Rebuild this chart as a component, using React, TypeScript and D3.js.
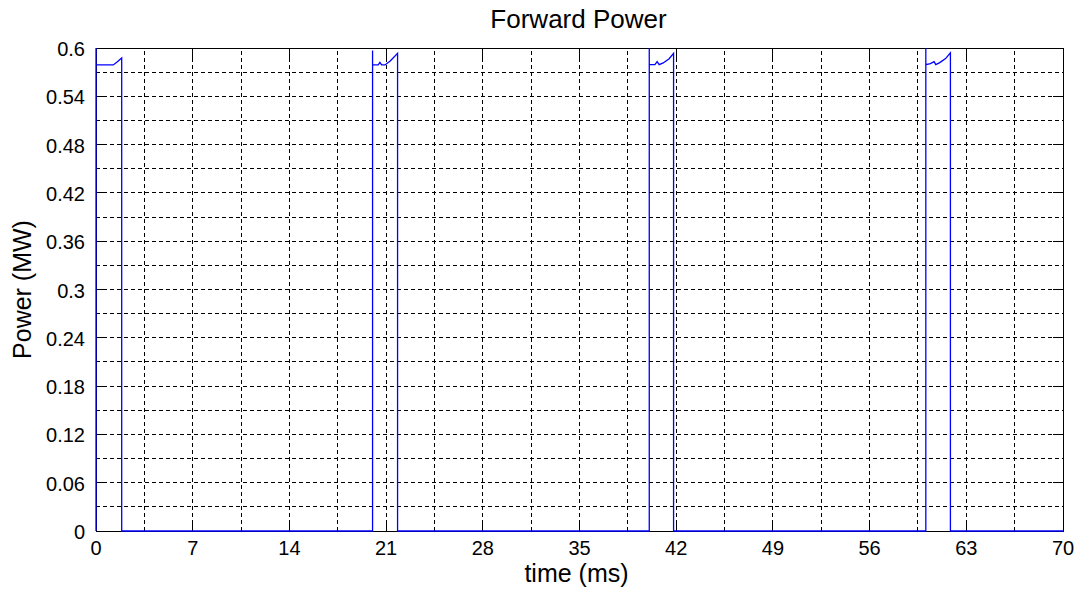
import React, { useRef, useEffect } from 'react';
import * as d3 from 'd3';

// trace (time in ms, power in MW)
const TIME_MS = [
  0, 0, 0, 1.25, 1.55, 1.86, 1.86,
  20.02, 20.02, 20.02, 20.43, 20.55, 20.68, 20.92, 21.3, 21.83, 21.83,
  40.05, 40.05, 40.05, 40.46, 40.62, 40.77, 41.06, 41.49, 41.81, 41.81,
  60.07, 60.07, 60.07, 60.4, 60.67, 60.79, 61.08, 61.5, 61.85, 61.85,
  70,
];
const POWER_MW = [
  0, 0.6, 0.579, 0.579, 0.583, 0.5876, 0,
  0, 0.597, 0.579, 0.579, 0.582, 0.579, 0.579, 0.5839, 0.5934, 0,
  0, 0.6, 0.5793, 0.5793, 0.583, 0.5793, 0.5814, 0.5867, 0.5934, 0,
  0, 0.6, 0.5793, 0.5805, 0.583, 0.5793, 0.5818, 0.5868, 0.594, 0,
  0,
];

const X_TICKS = [0, 7, 14, 21, 28, 35, 42, 49, 56, 63, 70];
const X_TICK_LABELS = ['0', '7', '14', '21', '28', '35', '42', '49', '56', '63', '70'];
const Y_TICKS = [0, 0.06, 0.12, 0.18, 0.24, 0.3, 0.36, 0.42, 0.48, 0.54, 0.6];
const Y_TICK_LABELS = ['0', '0.06', '0.12', '0.18', '0.24', '0.3', '0.36', '0.42', '0.48', '0.54', '0.6'];
const X_GRID_STEP = 3.5;
const Y_GRID_STEP = 0.03;

const TITLE = 'Forward Power';
const X_LABEL = 'time (ms)';
const Y_LABEL = 'Power (MW)';

const W = 1076;
const H = 592;
const margin = { left: 96, right: 13, top: 48, bottom: 61 };
const FONT = '"Liberation Sans", Arial, Helvetica, sans-serif';

const App = () => {
  const svgRef = useRef<SVGSVGElement>(null);

  useEffect(() => {
    document.body.style.margin = '0';
    const svg = d3.select(svgRef.current);
    svg.selectAll('*').remove();

    const x = d3.scaleLinear().domain([0, 70]).range([margin.left, W - margin.right]);
    const y = d3.scaleLinear().domain([0, 0.6]).range([H - margin.bottom, margin.top]);
    const [x0, x1] = x.range();
    const [y0, y1] = y.range();

    svg.append('rect').attr('width', W).attr('height', H).attr('fill', '#fff');

    // dashed grid, major + minor
    const xGrid = d3.range(X_GRID_STEP, 70 - 0.01, X_GRID_STEP);
    const yGrid = d3.range(1, 20).map((i) => i * Y_GRID_STEP);
    const grid = svg.append('g')
      .attr('stroke', '#000')
      .attr('stroke-width', 1)
      .attr('stroke-dasharray', '4,3')
      .attr('shape-rendering', 'crispEdges');
    grid.selectAll('.vg')
      .data(xGrid)
      .join('line')
        .attr('x1', (d) => x(d)).attr('x2', (d) => x(d))
        .attr('y1', y0).attr('y2', y1);
    grid.selectAll('.hg')
      .data(yGrid)
      .join('line')
        .attr('class', 'hg')
        .attr('x1', x0).attr('x2', x1)
        .attr('y1', (d) => y(d)).attr('y2', (d) => y(d));

    // box + inward ticks
    const axes = svg.append('g')
      .attr('stroke', '#000')
      .attr('stroke-width', 1)
      .attr('shape-rendering', 'crispEdges');
    axes.append('rect')
      .attr('x', x0).attr('y', y1)
      .attr('width', x1 - x0).attr('height', y0 - y1)
      .attr('fill', 'none');
    const tl = 10;
    X_TICKS.forEach((t) => {
      axes.append('line').attr('x1', x(t)).attr('x2', x(t)).attr('y1', y0).attr('y2', y0 - tl);
      axes.append('line').attr('x1', x(t)).attr('x2', x(t)).attr('y1', y1).attr('y2', y1 + tl);
    });
    Y_TICKS.forEach((t) => {
      axes.append('line').attr('x1', x0).attr('x2', x0 + tl).attr('y1', y(t)).attr('y2', y(t));
      axes.append('line').attr('x1', x1).attr('x2', x1 - tl).attr('y1', y(t)).attr('y2', y(t));
    });

    // tick labels
    svg.append('g')
      .selectAll('text')
      .data(X_TICKS)
      .join('text')
        .attr('x', (d) => x(d))
        .attr('y', y0 + 24)
        .attr('text-anchor', 'middle')
        .attr('font-family', FONT)
        .attr('font-size', 20)
        .text((d, i) => X_TICK_LABELS[i]);
    svg.append('g')
      .selectAll('text')
      .data(Y_TICKS)
      .join('text')
        .attr('x', x0 - 11)
        .attr('y', (d) => y(d) + 8)
        .attr('text-anchor', 'end')
        .attr('font-family', FONT)
        .attr('font-size', 20)
        .text((d, i) => Y_TICK_LABELS[i]);

    // trace
    const pts: [number, number][] = TIME_MS.map((t, i) => [t, POWER_MW[i]]);
    const line = d3.line<[number, number]>().x((d) => x(d[0])).y((d) => y(d[1]));
    svg.append('path')
      .datum(pts)
      .attr('d', line)
      .attr('fill', 'none')
      .attr('stroke', '#0000ff')
      .attr('stroke-width', 1.3);

    // titles
    svg.append('text')
      .attr('x', (x0 + x1) / 2 - 1)
      .attr('y', 28)
      .attr('text-anchor', 'middle')
      .attr('font-family', FONT)
      .attr('font-size', 26)
      .text(TITLE);
    svg.append('text')
      .attr('x', (x0 + x1) / 2 - 3)
      .attr('y', 582)
      .attr('text-anchor', 'middle')
      .attr('font-family', FONT)
      .attr('font-size', 25)
      .text(X_LABEL);
    svg.append('text')
      .attr('transform', `translate(31, ${(y0 + y1) / 2}) rotate(-90)`)
      .attr('text-anchor', 'middle')
      .attr('font-family', FONT)
      .attr('font-size', 25)
      .text(Y_LABEL);
  }, []);

  return <svg ref={svgRef} width={W} height={H} style={{ display: 'block' }} />;
};

export default App;
